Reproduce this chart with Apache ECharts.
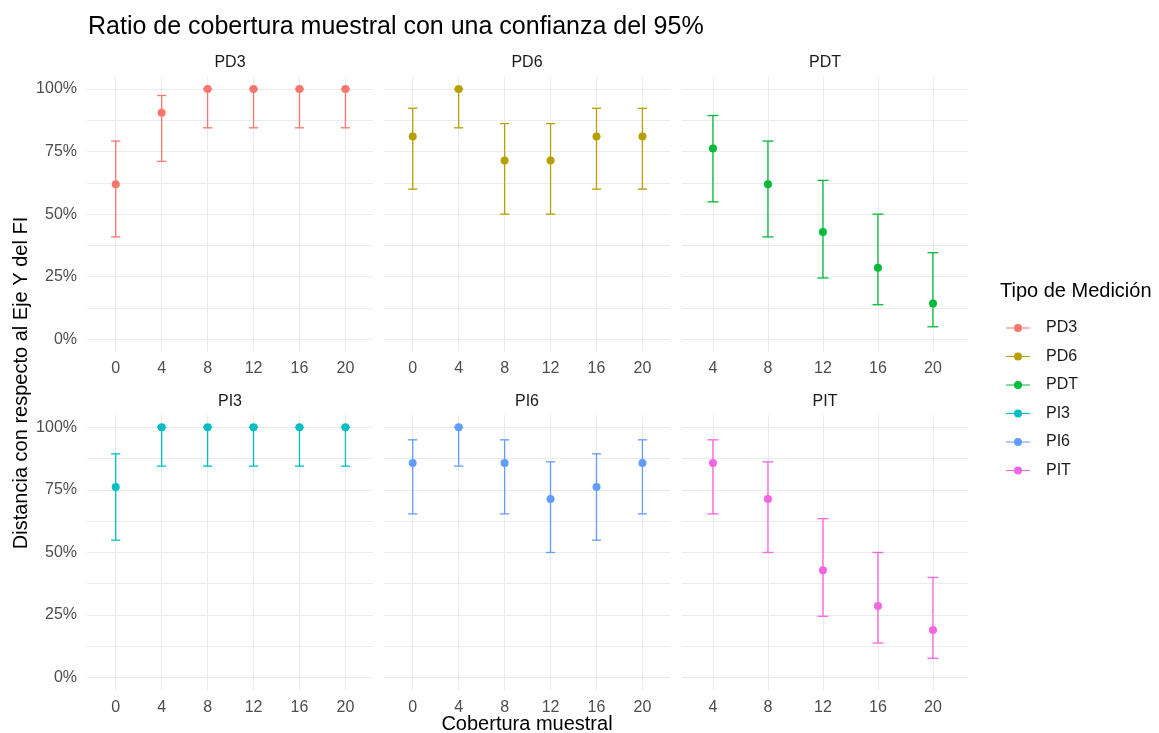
<!DOCTYPE html>
<html>
<head>
<meta charset="utf-8">
<script src="https://cdn.jsdelivr.net/npm/echarts@6/dist/echarts.min.js"></script>
<style>
  html, body { margin: 0; padding: 0; background: #ffffff; }
  #chart { width: 1159px; height: 733px; }
</style>
</head>
<body>
<div id="chart"></div>
<script>
// ---- Data ----
const panelNames = ['PD3', 'PD6', 'PDT', 'PI3', 'PI6', 'PIT'];
const colors = ['#F8766D', '#B79F00', '#00BA38', '#00BFC4', '#619CFF', '#F564E3'];

const xPD3 = [0, 4, 8, 12, 16, 20];
const estPD3 = [0.619, 0.905, 1.000, 1.000, 1.000, 1.000];
const loPD3 = [0.409, 0.711, 0.845, 0.845, 0.845, 0.845];
const hiPD3 = [0.792, 0.974, 1.000, 1.000, 1.000, 1.000];

const xPD6 = [0, 4, 8, 12, 16, 20];
const estPD6 = [0.810, 1.000, 0.714, 0.714, 0.810, 0.810];
const loPD6 = [0.600, 0.845, 0.500, 0.500, 0.600, 0.600];
const hiPD6 = [0.923, 1.000, 0.862, 0.862, 0.923, 0.923];

const xPDT = [4, 8, 12, 16, 20];
const estPDT = [0.762, 0.619, 0.429, 0.286, 0.143];
const loPDT = [0.549, 0.409, 0.245, 0.138, 0.050];
const hiPDT = [0.894, 0.792, 0.635, 0.500, 0.346];

const xPI3 = [0, 4, 8, 12, 16, 20];
const estPI3 = [0.762, 1.000, 1.000, 1.000, 1.000, 1.000];
const loPI3 = [0.549, 0.845, 0.845, 0.845, 0.845, 0.845];
const hiPI3 = [0.894, 1.000, 1.000, 1.000, 1.000, 1.000];

const xPI6 = [0, 4, 8, 12, 16, 20];
const estPI6 = [0.857, 1.000, 0.857, 0.714, 0.762, 0.857];
const loPI6 = [0.654, 0.845, 0.654, 0.500, 0.549, 0.654];
const hiPI6 = [0.950, 1.000, 0.950, 0.862, 0.894, 0.950];

const xPIT = [4, 8, 12, 16, 20];
const estPIT = [0.857, 0.714, 0.429, 0.286, 0.190];
const loPIT = [0.654, 0.500, 0.245, 0.138, 0.077];
const hiPIT = [0.950, 0.862, 0.635, 0.500, 0.400];

const xTicksFull = [0, 4, 8, 12, 16, 20];
const xTicksTotal = [4, 8, 12, 16, 20];
const yTickLabels = [0, 0.25, 0.5, 0.75, 1];
const yGridValues = [0, 0.125, 0.25, 0.375, 0.5, 0.625, 0.75, 0.875, 1];

const chartTitle = 'Ratio de cobertura muestral con una confianza del 95%';
const xTitle = 'Cobertura muestral';
const yTitle = 'Distancia con respecto al Eje Y del FI';
const legendTitle = 'Tipo de Medición';

// ---- Build ----
const panelData = [
  { x: xPD3, est: estPD3, lo: loPD3, hi: hiPD3, ticks: xTicksFull },
  { x: xPD6, est: estPD6, lo: loPD6, hi: hiPD6, ticks: xTicksFull },
  { x: xPDT, est: estPDT, lo: loPDT, hi: hiPDT, ticks: xTicksTotal },
  { x: xPI3, est: estPI3, lo: loPI3, hi: hiPI3, ticks: xTicksFull },
  { x: xPI6, est: estPI6, lo: loPI6, hi: hiPI6, ticks: xTicksFull },
  { x: xPIT, est: estPIT, lo: loPIT, hi: hiPIT, ticks: xTicksTotal }
];

const FONT = '"Liberation Sans", Arial, sans-serif';
const colLeft = [87, 384, 682];
const panelW = 286;
const rowTop = [76.5, 414.8];
const panelH = 275.3;
const capHalf = 0.4;

const grids = [], xAxes = [], yAxes = [], series = [], graphics = [];

panelData.forEach((p, i) => {
  const col = i % 3, row = Math.floor(i / 3);
  grids.push({ left: colLeft[col], top: rowTop[row], width: panelW, height: panelH, containLabel: false });
  const isTotal = (col === 2);
  xAxes.push({
    type: 'value', gridIndex: i,
    min: isTotal ? 1.75 : -2.5,
    max: isTotal ? 22.55 : 22.4,
    axisLine: { show: false },
    axisTick: { show: false, customValues: p.ticks },
    axisLabel: { customValues: p.ticks, color: '#4d4d4d', fontSize: 16, fontFamily: FONT, margin: 9 },
    splitLine: { show: true, lineStyle: { color: '#ebebeb', width: 1 } }
  });
  yAxes.push({
    type: 'value', gridIndex: i,
    min: -0.05, max: 1.05,
    axisLine: { show: false },
    axisTick: { show: false, customValues: yGridValues },
    axisLabel: {
      show: col === 0,
      customValues: yTickLabels,
      color: '#4d4d4d', fontSize: 16, fontFamily: FONT, margin: 10,
      formatter: v => Math.round(v * 100) + '%'
    },
    splitLine: { show: true, lineStyle: { color: '#ebebeb', width: 1 } }
  });
  const ebData = p.x.map((xv, k) => [xv, p.lo[k], p.hi[k]]);
  series.push({
    name: panelNames[i] + ' IC',
    type: 'custom',
    xAxisIndex: i, yAxisIndex: i,
    data: ebData,
    z: 2,
    silent: true,
    renderItem: function (params, api) {
      const xv = api.value(0), lo = api.value(1), hi = api.value(2);
      const a = api.coord([xv, lo]), b = api.coord([xv, hi]);
      const l0 = api.coord([xv - capHalf, lo]), l1 = api.coord([xv + capHalf, lo]);
      const h0 = api.coord([xv - capHalf, hi]), h1 = api.coord([xv + capHalf, hi]);
      const st = { stroke: colors[i], lineWidth: 1.3 };
      return {
        type: 'group',
        children: [
          { type: 'line', shape: { x1: a[0], y1: a[1], x2: b[0], y2: b[1] }, style: st },
          { type: 'line', shape: { x1: l0[0], y1: l0[1], x2: l1[0], y2: l1[1] }, style: st },
          { type: 'line', shape: { x1: h0[0], y1: h0[1], x2: h1[0], y2: h1[1] }, style: st }
        ]
      };
    }
  });
  series.push({
    name: panelNames[i],
    type: 'scatter',
    xAxisIndex: i, yAxisIndex: i,
    data: p.x.map((xv, k) => [xv, p.est[k]]),
    symbol: 'circle',
    symbolSize: 8,
    itemStyle: { color: colors[i], opacity: 1 },
    z: 3
  });
  graphics.push({
    type: 'text',
    x: colLeft[col] + panelW / 2,
    y: rowTop[row] - 13.5,
    style: { text: panelNames[i], fill: '#1a1a1a', font: '16px ' + FONT, align: 'center', verticalAlign: 'middle' }
  });
});

graphics.push({
  type: 'text', x: 88, y: 27,
  style: { text: chartTitle, fill: '#000000', font: '25px ' + FONT, align: 'left', verticalAlign: 'middle' }
});
graphics.push({
  type: 'text', x: 527, y: 724,
  style: { text: xTitle, fill: '#000000', font: '20px ' + FONT, align: 'center', verticalAlign: 'middle' }
});
graphics.push({
  type: 'text', x: 21, y: 383, rotation: Math.PI / 2,
  style: { text: yTitle, fill: '#000000', font: '20px ' + FONT, align: 'center', verticalAlign: 'middle' }
});
graphics.push({
  type: 'text', x: 1000, y: 291,
  style: { text: legendTitle, fill: '#000000', font: '20px ' + FONT, align: 'left', verticalAlign: 'middle' }
});

const keyIcon = 'path://M0,4.4 L24,4.4 L24,5.6 L0,5.6 Z M8,5 A4,4 0 1,1 16,5 A4,4 0 1,1 8,5 Z';

const option = {
  animation: false,
  backgroundColor: '#ffffff',
  grid: grids,
  xAxis: xAxes,
  yAxis: yAxes,
  legend: {
    orient: 'vertical',
    left: 1001,
    top: 314,
    data: panelNames.map(n => ({ name: n, icon: keyIcon })),
    itemWidth: 24,
    itemHeight: 8,
    itemGap: 10.5,
    selectedMode: false,
    textStyle: { color: '#1a1a1a', fontSize: 16, fontFamily: FONT, lineHeight: 18, padding: [0, 0, 0, 11] }
  },
  graphic: graphics,
  series: series
};

const chart = echarts.init(document.getElementById('chart'), null, { renderer: 'canvas' });
chart.setOption(option);
</script>
</body>
</html>
